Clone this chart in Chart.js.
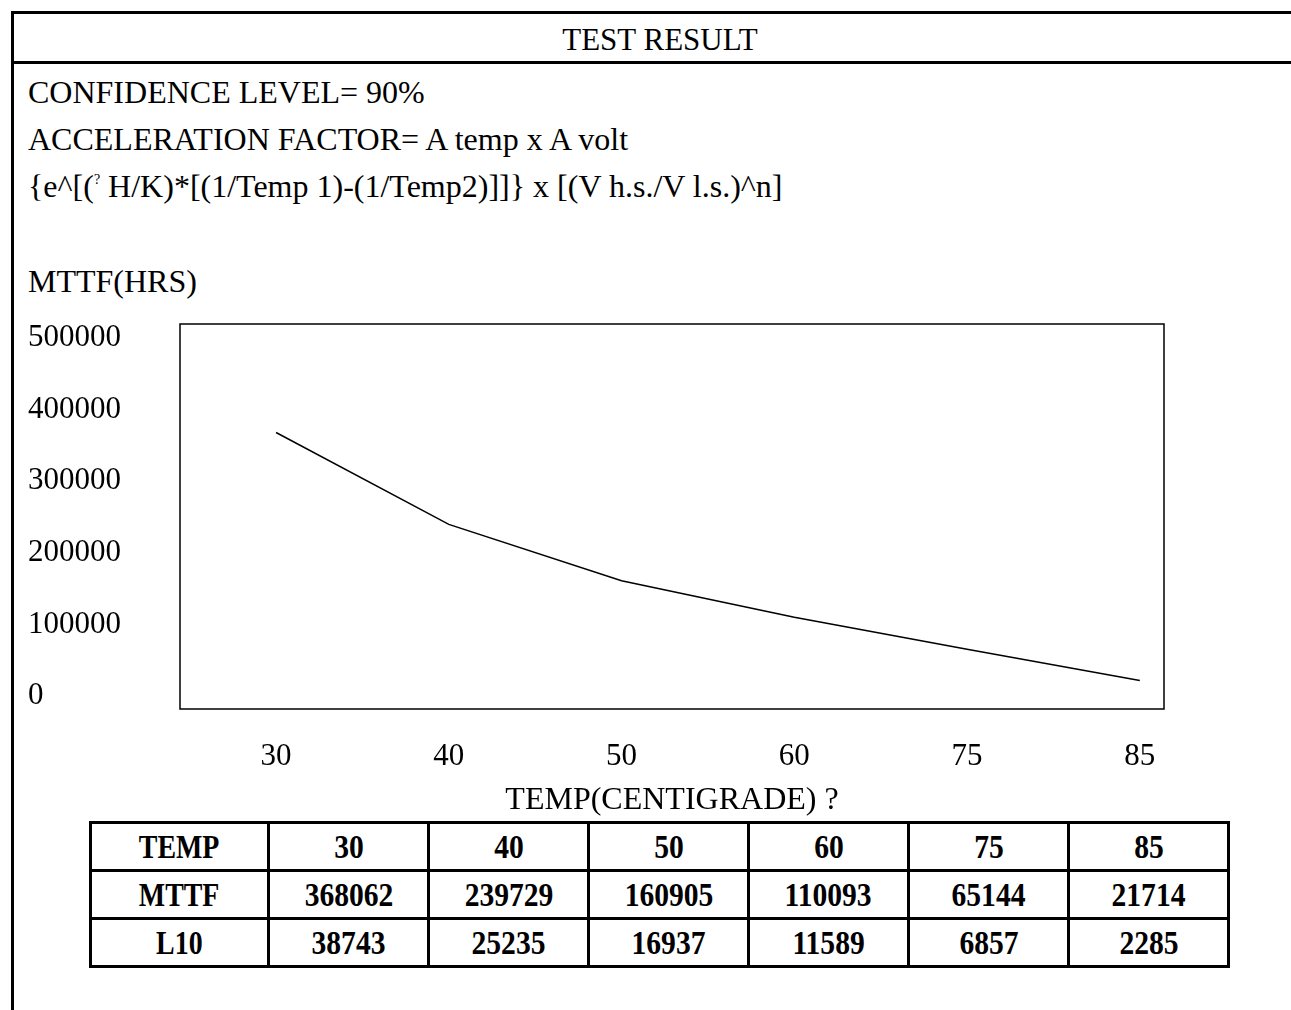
<!DOCTYPE html>
<html>
<head>
<meta charset="utf-8">
<script src="https://cdn.jsdelivr.net/npm/chart.js@4.4.0/dist/chart.umd.min.js"></script>
<style>
  body { margin: 0; background: #fff; font-family: "Liberation Serif", "Times New Roman", serif; color: #000; }
  #page { position: relative; width: 1291px; height: 1010px; overflow: hidden; }
  #frame { position: absolute; left: 11px; top: 11px; width: 1400px; height: 1100px; border-left: 3px solid #000; border-top: 3px solid #000; }
  #headLine { position: absolute; left: 11px; top: 61px; width: 1300px; height: 3px; background: #000; }
  .txt { position: absolute; left: 28px; font-size: 32px; white-space: nowrap; line-height: 1; }
  #title { position: absolute; left: 0; width: 1320px; top: 24px; text-align: center; font-size: 31px; line-height: 1; }
  sup { font-size: 14px; vertical-align: 13px; }
  #chartBox { position: absolute; left: 0; top: 300px; width: 1291px; height: 520px; }
  table { position: absolute; left: 89px; top: 821px; border-collapse: collapse; }
  td { border: 3px solid #000; height: 45px; padding: 0; text-align: center; font-weight: bold; font-size: 34px; }
  td span { display: inline-block; transform: scaleX(0.82); }
  td span.num { transform: scaleX(0.87); }
</style>
</head>
<body>
<div id="page">
  <div id="frame"></div>
  <div id="headLine"></div>
  <div id="title">TEST RESULT</div>
  <div class="txt" style="top:76px">CONFIDENCE LEVEL= 90%</div>
  <div class="txt" style="top:123px">ACCELERATION FACTOR= A temp x A volt</div>
  <div class="txt" style="top:170px">{e^[(<sup>?</sup> H/K)*[(1/Temp 1)-(1/Temp2)]]} x [(V h.s./V l.s.)^n]</div>
  <div class="txt" style="top:265px">MTTF(HRS)</div>
  <div id="chartBox"><canvas id="chart"></canvas></div>
  <table id="tbl"></table>
</div>
<script>
var temps = ["30", "40", "50", "60", "75", "85"];
var mttf = [368062, 239729, 160905, 110093, 65144, 21714];
var l10 = [38743, 25235, 16937, 11589, 6857, 2285];
var yTicks = [0, 100000, 200000, 300000, 400000, 500000];

// table under the chart
var tbl = document.getElementById('tbl');
function addRow(name, vals) {
    var tr = document.createElement('tr');
    var cells = [name].concat(vals);
    cells.forEach(function(v, i) {
        var td = document.createElement('td');
        td.style.width = (i == 0 ? 175 : 157) + 'px';
        td.innerHTML = '<span' + (i > 0 ? ' class="num"' : '') + '>' + v + '</span>';
        tr.appendChild(td);
    });
    tbl.appendChild(tr);
}
addRow('TEMP', temps);
addRow('MTTF', mttf);
addRow('L10', l10);

var boxPlugin = {
    id: 'box',
    afterDatasetsDraw: function(chart) {
        var a = chart.chartArea;
        var ctx = chart.ctx;
        ctx.save();
        ctx.strokeStyle = '#000';
        ctx.lineWidth = 1.5;
        ctx.strokeRect(a.left, a.top, a.right - a.left, a.bottom - a.top);
        ctx.restore();
    }
};

var font = { family: '"Liberation Serif", "Times New Roman", serif', size: 31 };

new Chart(document.getElementById('chart'), {
    type: 'line',
    data: {
        datasets: [{
            data: mttf.map(function(v, i) { return { x: i, y: v }; }),
            borderColor: '#000',
            borderWidth: 1.5,
            pointRadius: 0,
            tension: 0,
            fill: false
        }]
    },
    options: {
        responsive: true,
        maintainAspectRatio: false,
        devicePixelRatio: 1,
        animation: false,
        layout: { padding: { left: 28, right: 127, top: 24, bottom: 0 } },
        plugins: { legend: { display: false }, tooltip: { enabled: false } },
        scales: {
            x: {
                type: 'linear',
                min: -0.556,
                max: 5.14,
                grid: { display: false, drawTicks: false },
                border: { display: false },
                afterBuildTicks: function(s) { s.ticks = temps.map(function(t, i) { return { value: i }; }); },
                afterFit: function(s) { s.height = 111; },
                ticks: {
                    color: '#000',
                    font: font,
                    padding: 29,
                    maxRotation: 0,
                    autoSkip: false,
                    callback: function(v) { return temps[v]; }
                },
                title: {
                    display: true,
                    text: 'TEMP(CENTIGRADE) ?',
                    color: '#000',
                    font: { family: font.family, size: 32 },
                    padding: { top: 0, bottom: 0 }
                }
            },
            y: {
                min: -18150,
                max: 519550,
                grid: { display: false, drawTicks: false },
                border: { display: false },
                afterBuildTicks: function(s) { s.ticks = yTicks.map(function(v) { return { value: v }; }); },
                afterFit: function(s) { s.width = 152; },
                ticks: {
                    color: '#000',
                    font: font,
                    crossAlign: 'far',
                    padding: 0,
                    callback: function(v) { return String(v); }
                }
            }
        }
    },
    plugins: [boxPlugin]
});
</script>
</body>
</html>
